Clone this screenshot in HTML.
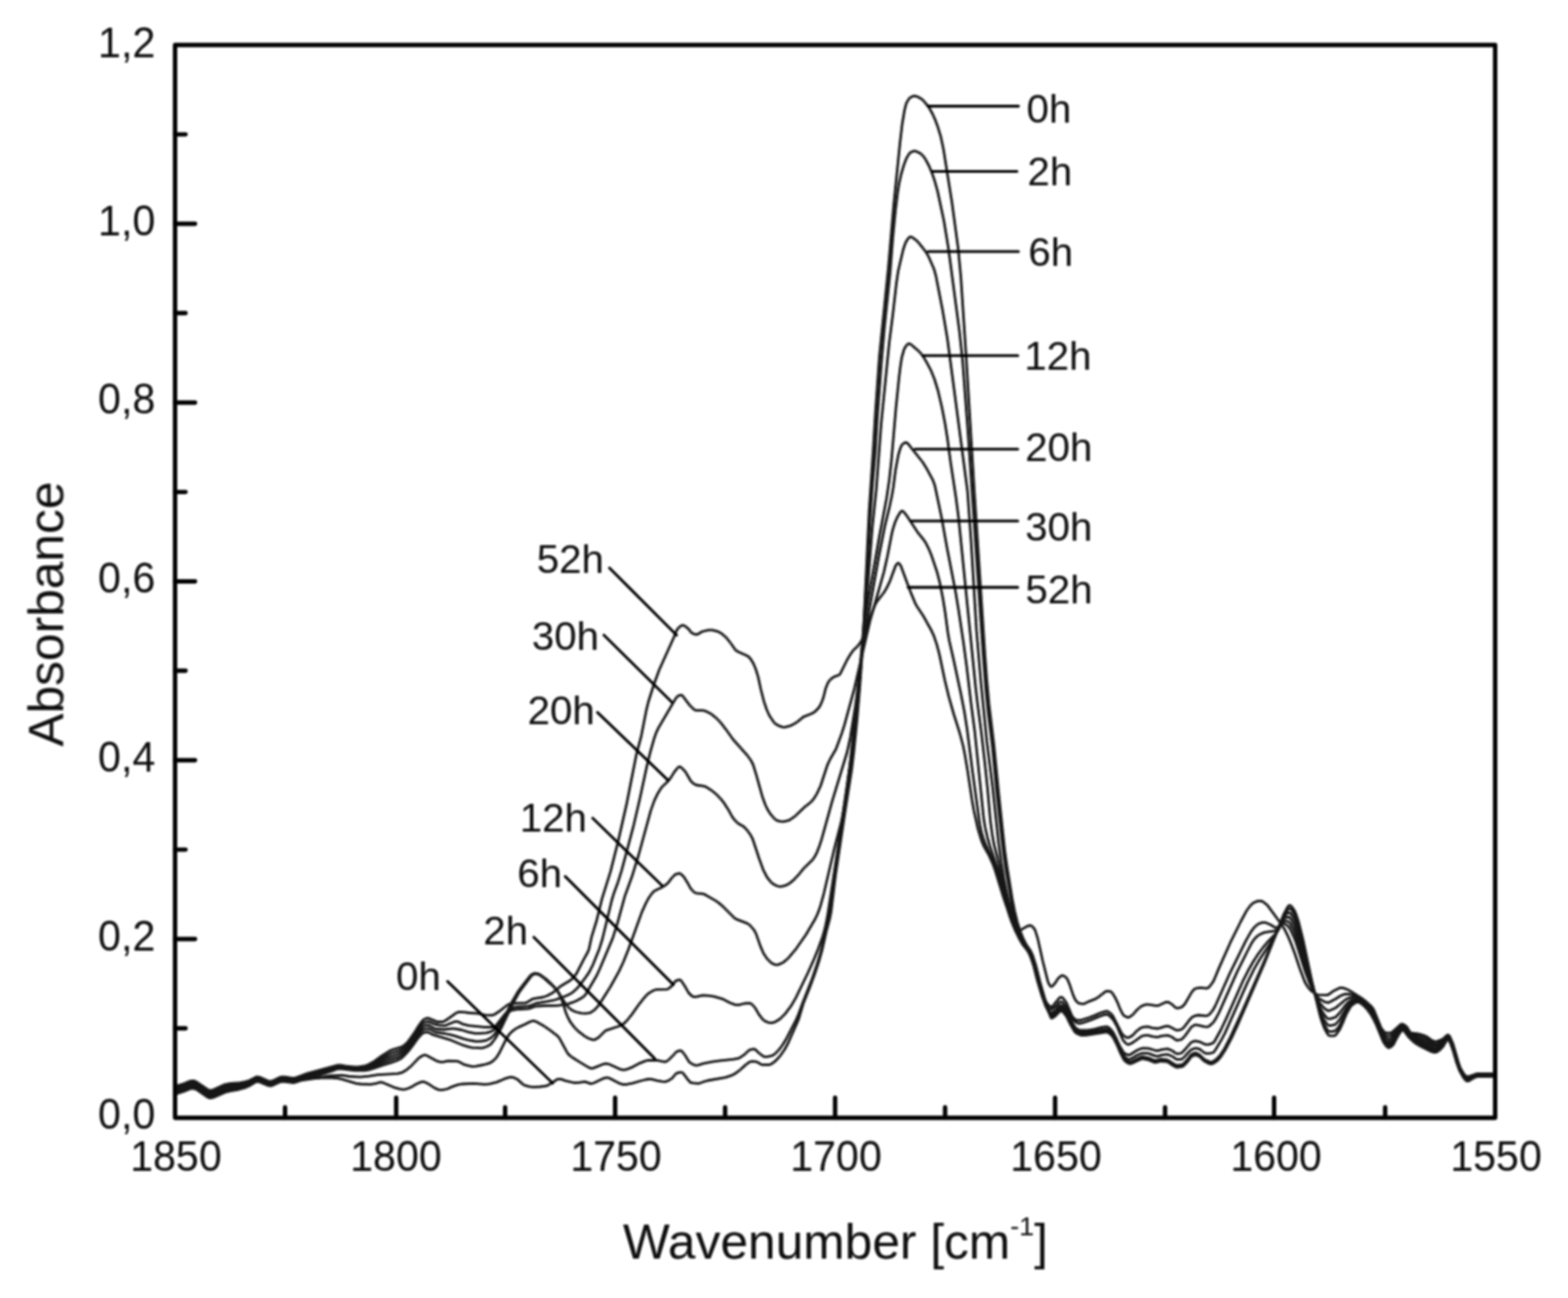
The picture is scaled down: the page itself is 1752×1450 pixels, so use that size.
<!DOCTYPE html>
<html lang="en"><head><meta charset="utf-8"><title>FTIR absorbance spectra</title>
<style>
html,body{margin:0;padding:0;background:#fff;}
body{width:1752px;height:1450px;overflow:hidden;}
svg{display:block;}
text{font-family:"Liberation Sans",sans-serif;fill:#0a0a0a;}
.tk{font-size:46px;}
.lb{font-size:45px;}
.ax{font-size:55.5px;}
</style></head><body>
<svg width="1752" height="1450" viewBox="0 0 1752 1450">
<defs><filter id="bl" x="0" y="0" width="1752" height="1450" filterUnits="userSpaceOnUse"><feGaussianBlur stdDeviation="0.8"/></filter></defs>
<rect x="0" y="0" width="1752" height="1450" fill="#fff"/>
<g filter="url(#bl)">
<g fill="none" stroke="#141414" stroke-width="2.8" stroke-linejoin="round" stroke-linecap="butt">
<path d="M195.6 1222.3L205.6 1219.1L212.1 1216.5L214.1 1216L216.1 1215.9L217.6 1216.3L219.6 1217.2L232.1 1225.8L234.1 1226.6L235.6 1226.7L238.6 1225.9L251.6 1220.1L258.1 1218.6L267.1 1217L273.6 1215.1L278.1 1213.2L285.1 1209L287.1 1208.1L290.1 1208.6L299.6 1212.7L302.1 1213.2L304.6 1212.6L312.6 1208.8L314.6 1208.2L318.1 1208.3L328.1 1209.6L330.6 1209L335.6 1207.2L340.1 1206.3L352.1 1204.6L359.1 1204L371.1 1204L377.6 1204.7L383.1 1205.8L398.1 1210.3L403.1 1211L414.1 1211.3L420.1 1210.4L424.6 1209L426.1 1209L428.6 1209.7L441.6 1215.2L447.1 1216.6L450.6 1217.1L452.6 1216.9L455.6 1216L459.6 1214.4L465.1 1211L468.6 1209.4L471.1 1208.6L473.1 1208.4L475.1 1209L479.1 1211.1L485.6 1215.4L489.6 1217.1L492.1 1217.6L495.1 1217.4L499.6 1216.5L506.1 1213.6L512.1 1211.7L515.6 1211L529.6 1210.4L541.6 1211.4L547.1 1210.9L555.1 1208.9L563.6 1205.2L568.6 1203.6L571.1 1203.2L574.1 1203.8L578.6 1206.1L584.1 1211.1L586.1 1212.4L591.6 1213.8L596.1 1214.3L603.6 1214L610.1 1213.2L612.6 1212.1L618.1 1208.8L622.1 1206L624.1 1205.3L627.1 1205.7L632.1 1207.3L641.1 1209.5L644.6 1209.6L653.6 1208.4L660.1 1210.6L663.1 1210L674.1 1204.7L677.6 1203.8L679.1 1203.9L681.1 1204.5L692.6 1210.4L696.1 1211.5L700.1 1211.3L706.6 1210.2L715.6 1207.5L721.6 1206L724.6 1205.5L728.1 1205.7L734.1 1207.2L739.6 1208.1L743.6 1208.4L746.6 1207.3L751.1 1204.3L754.6 1200.2L756.1 1198.9L758.6 1198.1L761.1 1197.8L762.1 1198L763.6 1199.3L769.6 1207.3L771.1 1208.9L772.1 1209.4L774.6 1209.9L780.1 1210.3L782.6 1209.8L788.1 1207.8L791.1 1207L810.6 1203.6L818.1 1201.1L821.1 1199.5L825.1 1196.7L833.1 1189.6L837.1 1186.6L838.6 1185.9L841.1 1185.7L845.6 1186.2L847.1 1187L849.6 1188.7L851.1 1189.3L859.1 1189.5L860.6 1189.2L863.1 1187.8L867.6 1184.2L872.6 1178.3L876.6 1172.5L880.6 1165.3L892.1 1139.3L897.6 1121L904.6 1103.6L910.6 1087.2L915.1 1073.5L918.6 1061.3L923.6 1039.3L927.1 1026.3L928.6 1018.8L933.6 977.6L944.6 904.4L951.6 860L954.1 839.2L957.6 804.1L960.6 768.7L963.1 733.9L964.6 709.1L971.1 570.9L975.6 503.9L978.1 461.9L982.6 398.1L992.6 298.9L998.6 229.2L1005.6 159.7L1008.1 138.4L1010.6 123.5L1012.1 117.3L1013.1 114.6L1015.1 111.1L1016.6 109.3L1019.6 107.6L1021.6 107.1L1023.1 107.3L1025.1 108L1029.6 110.5L1032.1 112.8L1036.1 117.5L1039.1 122L1042.1 127.5L1044.6 133.1L1047.6 140.9L1051.1 152.3L1054.1 166.2L1063.6 225.7L1070.6 277.4L1073.6 309.3L1079.6 399.6L1088.6 548L1100.6 732.5L1102.6 759.5L1105.1 787L1110.6 832.3L1115.6 883.7L1122.6 949.6L1125.1 967.5L1131.1 1004.5L1133.6 1017.3L1136.6 1029.6L1139.6 1039.2L1143.6 1049.2L1146.6 1055.1L1151.6 1062.3L1154.1 1067.9L1157.6 1079.1L1162.1 1097.2L1170.1 1125L1174.1 1136.6L1174.6 1137.3L1175.1 1137.5L1176.1 1137.2L1179.1 1135L1184.1 1130L1185.6 1129.5L1186.6 1129.8L1188.6 1131.5L1191.6 1135.3L1196.1 1144.6L1200.6 1152.3L1201.6 1153.4L1203.1 1154.4L1207.1 1156.3L1209.1 1156.6L1214.1 1156.3L1235.1 1153.2L1237.1 1153.1L1238.6 1153.7L1242.1 1156.6L1244.1 1159.3L1248.1 1167.3L1251.6 1175.7L1255.6 1183.6L1257.6 1185.8L1259.6 1187.2L1261.6 1188.1L1263.1 1188.3L1264.6 1188L1274.1 1183.4L1276.1 1182.8L1277.6 1182.8L1283.6 1184.2L1289.6 1186.8L1291.6 1186.8L1297.1 1185.5L1304.1 1186.2L1305.6 1186.8L1309.1 1189.3L1313.6 1192L1315.1 1192.4L1317.6 1192.2L1320.6 1191.7L1322.1 1191L1326.6 1186.5L1331.1 1180.4L1334.1 1178.9L1336.1 1178.6L1338.1 1179.2L1341.1 1180.9L1345.6 1185.4L1349.1 1187.4L1352.6 1188.6L1354.1 1188.5L1355.6 1188L1360.6 1184.6L1364.6 1179.8L1369.6 1171.9L1377.1 1157.5L1382.1 1146.7L1412.6 1076.5L1425.6 1044.2L1434.1 1022L1438.6 1013.5L1440.1 1011.7L1441.1 1011.4L1442.1 1011.8L1443.1 1012.6L1446.6 1017.6L1448.6 1022.6L1451.1 1030.3L1456.1 1050.4L1465.6 1095L1474.6 1133.3L1477.1 1141.6L1479.6 1148.3L1482.6 1153.9L1484.6 1156.6L1485.6 1157.1L1490.6 1157.1L1491.6 1156.8L1493.1 1155.4L1497.1 1149.6L1501.1 1140.8L1504.6 1132.3L1508.6 1125.2L1510.1 1123.4L1514.1 1120.4L1516.1 1119.6L1518.1 1119.6L1520.6 1121L1525.1 1124.7L1528.1 1128.1L1531.6 1132.9L1534.6 1138.2L1537.6 1144.3L1545.6 1163.8L1548.1 1167.5L1550.6 1170.1L1551.6 1170.5L1553.1 1170.2L1554.6 1169.2L1557.1 1166.7L1561.1 1158.7L1564.1 1153.8L1565.6 1151.9L1567.1 1151L1568.1 1151.2L1569.1 1152L1574.1 1158.6L1579.1 1163.5L1582.1 1165.9L1587.6 1169.1L1598.6 1174.4L1601.6 1175.5L1603.1 1175.7L1604.6 1175.5L1606.1 1174.8L1608.1 1173.4L1612.1 1169.6L1616.6 1162.1L1617.6 1161.3L1618.1 1161.3L1618.6 1161.6L1619.6 1163L1621.1 1166.5L1623.6 1173.4L1627.1 1185.7L1631.1 1196.5L1635.6 1204.3L1638.1 1207.2L1639.6 1207.8L1641.1 1207.5L1646.1 1204.4L1650.6 1202.5L1662.1 1202.6L1670.6 1202.3"/>
<path d="M195.6 1220.9L205.6 1217.7L212.1 1215.1L214.1 1214.6L216.1 1214.5L217.6 1214.8L219.6 1215.8L232.1 1224.3L234.1 1225.1L235.6 1225.3L238.6 1224.4L251.6 1218.7L258.1 1217.2L267.6 1215.7L274.1 1213.9L278.1 1212.3L285.1 1208.1L287.1 1207.3L290.1 1207.7L299.6 1211.8L302.1 1212.3L304.6 1211.8L312.6 1208L314.6 1207.3L318.1 1207.4L326.1 1208.6L328.6 1208.7L330.6 1208.2L335.6 1206.4L342.6 1204.5L345.1 1204.3L352.1 1204.5L369.1 1201.6L382.1 1201.2L390.6 1202.5L402.6 1203.2L412.6 1202.1L422.1 1200.7L444.1 1199.4L449.1 1198.2L454.1 1195.3L459.1 1191.1L467.6 1182.2L471.6 1179.5L474.1 1178.6L475.6 1178.7L477.1 1179.3L487.6 1185.1L492.1 1186.3L495.1 1186.4L500.6 1185.2L510.6 1185.4L513.1 1186.3L519.1 1189.4L524.1 1190.7L527.6 1191.3L531.6 1191.1L540.1 1189.5L544.6 1188.4L548.1 1187.1L551.1 1185L554.6 1181.6L557.6 1176.8L564.6 1162.8L567.1 1158.4L569.1 1155.4L572.1 1152.3L575.6 1149.6L579.1 1147.6L586.6 1144.2L592.1 1141.4L595.1 1140.5L597.1 1140.6L599.1 1141.3L606.6 1145.4L614.6 1150.9L622.1 1156.6L624.1 1158.5L625.1 1159.8L633.1 1174.7L634.6 1177L636.1 1178.7L639.1 1181L647.6 1186.4L657.6 1192.4L660.6 1193.5L663.1 1193.1L674.1 1188.7L677.6 1188.1L681.1 1189L693.6 1194.7L695.6 1195.1L697.6 1195.1L701.1 1194.3L706.6 1192.1L715.1 1187.6L720.6 1185.4L723.6 1184.5L734.1 1184.3L741.1 1186L743.6 1186.1L745.1 1185.5L747.1 1184L751.6 1179.6L755.6 1175.1L757.1 1174.4L759.6 1173.7L761.1 1173.8L762.6 1175.1L765.6 1179L769.1 1184.9L770.6 1186.9L774.6 1189.3L776.6 1190L778.1 1190.1L780.1 1189.8L785.6 1188.1L795.6 1186.1L804.6 1184.8L819.1 1183.4L824.6 1182.4L827.6 1180.9L832.1 1177.8L836.6 1173.4L838.1 1172.7L841.1 1172L842.6 1171.9L844.1 1172.5L848.1 1176.4L852.1 1179.5L853.6 1180.3L855.6 1180.6L859.1 1180.1L863.1 1179.1L864.6 1178.2L867.1 1176.1L871.6 1171.2L874.6 1167L878.6 1160.4L889.6 1139.1L892.1 1133.2L896.6 1121L906.6 1095.6L913.1 1076.6L917.1 1063.2L925.6 1027.1L927.1 1019.4L931.6 981.1L937.6 940.5L942.1 907.7L946.1 882L949.6 856.4L954.1 829.5L956.6 807.4L961.1 756.4L963.6 724.2L972.1 580.1L975.1 538.7L978.1 504.1L980.1 469.7L984.6 407.8L988.1 367.4L994.6 304.4L997.6 265.5L1000.6 234.7L1003.1 214.4L1004.6 205L1007.1 194L1010.1 183.9L1012.6 177.2L1015.6 172.1L1016.6 171L1018.1 169.9L1020.1 169L1021.6 168.7L1024.6 169.4L1028.6 171.6L1032.1 175L1034.6 178.8L1038.1 185.5L1041.6 193.9L1044.6 202.8L1047.6 213.6L1054.6 246.3L1059.6 276.5L1072.1 370.6L1075.6 403.8L1081.6 483.3L1098.6 733.2L1101.6 771.1L1104.1 796.2L1108.6 832.3L1113.6 883.7L1119.6 939.4L1121.6 955.7L1124.1 972.7L1130.6 1010.2L1133.6 1023.7L1136.1 1033.1L1139.6 1043.3L1143.1 1051.3L1145.6 1055.8L1150.6 1062.4L1153.1 1067.7L1156.6 1078.4L1161.6 1098.3L1169.1 1123.6L1170.6 1128L1173.6 1134.8L1174.6 1135.5L1176.1 1135L1179.1 1133.1L1184.1 1128L1185.6 1127.5L1186.6 1127.8L1188.6 1129.5L1191.6 1133.3L1196.1 1142.6L1200.6 1150.4L1201.6 1151.6L1203.1 1152.7L1207.1 1154.7L1210.6 1155L1218.1 1154.2L1235.1 1151.6L1237.1 1151.5L1238.6 1152.1L1242.6 1155.5L1244.6 1158.5L1248.1 1165.6L1251.6 1174L1255.6 1181.8L1257.6 1184L1259.6 1185.3L1261.6 1186.1L1263.1 1186.3L1264.6 1185.9L1274.1 1181.1L1276.1 1180.5L1277.6 1180.5L1283.6 1181.9L1289.6 1184.5L1291.6 1184.5L1297.1 1183.2L1304.1 1184L1305.6 1184.6L1309.1 1187L1313.6 1189.6L1315.1 1190L1317.6 1189.8L1321.1 1189.1L1322.6 1188.1L1326.6 1183.8L1331.1 1177.9L1334.1 1176.5L1336.1 1176.2L1338.1 1176.9L1341.1 1178.9L1345.1 1182.9L1346.6 1184L1351.6 1186.1L1353.6 1186.3L1355.1 1185.9L1357.1 1184.7L1360.1 1182.3L1363.1 1179L1368.1 1171.4L1373.6 1161L1388.1 1129.5L1411.1 1077.4L1432.6 1026.3L1434.6 1022.3L1437.1 1018.3L1439.6 1015.2L1440.6 1015.1L1442.1 1015.4L1442.6 1015.8L1445.6 1020L1447.6 1024.2L1449.6 1029.9L1452.1 1038.1L1454.6 1047.9L1465.6 1096.1L1474.1 1129.4L1476.6 1137.2L1479.1 1143.5L1481.1 1147.3L1483.1 1150.5L1484.1 1151.6L1485.6 1152.3L1486.6 1152.4L1490.6 1152L1492.6 1151L1495.6 1147.3L1497.1 1145L1504.6 1129.6L1508.6 1123.4L1510.6 1121.4L1513.6 1119.7L1515.6 1118.9L1518.1 1119L1520.6 1120.3L1525.6 1124.5L1528.6 1127.9L1531.6 1132L1534.1 1136.2L1537.1 1142.2L1545.6 1162.6L1548.6 1166.7L1550.6 1168.4L1552.1 1168.8L1553.1 1168.5L1554.6 1167.7L1556.1 1166.2L1558.1 1163.6L1561.6 1156.9L1565.1 1151.5L1566.1 1150.7L1567.1 1150.6L1568.1 1150.5L1569.1 1151.2L1574.6 1158.4L1578.1 1161.7L1581.6 1164.4L1586.6 1167.3L1594.1 1170.7L1599.1 1173.3L1601.6 1174.3L1604.6 1174.3L1606.6 1173.4L1608.6 1171.9L1612.1 1168.7L1616.1 1162.2L1617.1 1161.2L1618.1 1160.8L1619.6 1162.6L1621.1 1165.8L1624.1 1174.3L1628.1 1187.9L1631.1 1195.9L1635.1 1203.1L1637.6 1206.3L1639.1 1207.1L1640.6 1207.2L1642.6 1206.3L1646.1 1204L1650.1 1202.3L1670.6 1202"/>
<path d="M195.6 1219.4L205.6 1216.2L212.1 1213.7L214.1 1213.2L216.1 1213L217.6 1213.4L219.6 1214.4L232.1 1222.9L234.1 1223.7L235.6 1223.8L238.6 1223L248.6 1218.3L251.6 1217.2L258.1 1215.8L268.1 1214.4L274.6 1212.6L278.1 1211.2L285.1 1207.2L287.1 1206.4L290.1 1206.8L299.6 1210.9L301.1 1211.4L302.6 1211.4L305.1 1210.7L312.6 1207.1L314.6 1206.4L319.1 1206.6L326.6 1207.8L329.6 1207.6L335.6 1205.5L340.1 1204.3L353.1 1202.1L371.1 1196.5L376.1 1194.5L378.1 1194.1L382.1 1194.2L396.1 1195.8L407.1 1195.9L411.1 1195.3L418.6 1193.1L427.1 1190.1L437.6 1186.9L443.6 1184.7L448.1 1182.4L451.1 1179.9L455.6 1175.1L460.1 1169.4L467.1 1159.6L470.1 1156.2L472.6 1154L476.1 1152.9L478.6 1153L482.1 1155.1L484.6 1156.2L502.1 1161.3L517.6 1167.7L524.1 1169.7L527.6 1170.4L534.1 1170.7L538.1 1170.8L541.1 1170.2L545.1 1168.5L548.1 1166.7L550.1 1164.5L553.6 1159.7L560.1 1148.3L573.1 1121.1L579.6 1109.3L582.1 1105.6L593.6 1090.4L595.1 1089L598.1 1087.9L600.1 1088.1L603.1 1089.3L608.1 1092.9L615.6 1099.6L620.6 1104.6L623.1 1107.7L625.1 1110.9L627.1 1115.4L629.6 1122.2L632.1 1130.8L634.6 1136.8L637.6 1142.2L641.6 1147.4L646.6 1152.4L653.1 1157.4L657.6 1160L662.6 1161.7L663.6 1161.7L665.1 1161.2L669.1 1158.7L675.1 1152.7L677.1 1151.2L691.1 1146.5L694.6 1144.9L697.6 1143L700.6 1140L706.1 1133.1L714.1 1121.8L719.6 1114.9L722.6 1111.5L725.1 1109.4L730.1 1106.5L733.6 1105.3L745.1 1105.1L746.1 1104.9L748.1 1103.6L751.1 1100.9L755.1 1095.7L758.6 1094.6L760.1 1094.7L761.6 1096.2L765.1 1101.5L769.6 1109.4L773.1 1112.6L775.1 1113.7L777.6 1113.6L785.1 1111.9L790.1 1112.2L797.6 1113.2L807.1 1115.8L815.6 1120.2L820.6 1122.1L823.1 1122.7L825.6 1122.6L831.6 1121L837.1 1120.7L838.6 1120.9L840.6 1122.4L843.6 1125.6L848.6 1134.2L852.1 1138.5L854.6 1140.6L858.6 1142.3L860.6 1142.7L862.6 1142.7L864.6 1142.2L867.1 1141L871.6 1138.2L877.6 1132.2L883.6 1124.2L889.1 1114.9L902.6 1087L908.6 1073.7L914.1 1060.3L919.1 1046.6L922.1 1035.7L924.6 1023.1L938.1 935.5L949.1 858.6L953.1 824.7L960.6 749.7L964.1 709.9L970.1 647.6L974.6 589.9L979.1 546.8L984.6 473.1L993.6 382.6L997.6 351.4L1001.6 316.3L1003.6 302.7L1009.1 279.2L1011.1 273L1012.6 269.6L1015.1 266L1016.1 265.1L1017.1 264.6L1018.1 264.7L1019.6 265.3L1024.1 268.7L1026.6 271.4L1033.6 280.1L1035.6 283.1L1037.6 286.8L1043.6 300.5L1045.6 307.6L1053.1 346.1L1058.6 378.5L1081.1 549L1085.1 605.3L1091.1 704.4L1096.1 763L1102.6 827.9L1109.1 879.2L1115.6 940.2L1118.6 962.3L1121.6 980.7L1124.1 993.5L1127.1 1007L1130.6 1020.4L1134.1 1032L1137.6 1041.4L1141.6 1050.4L1144.6 1055.7L1149.6 1062.4L1152.6 1068.8L1156.1 1079.4L1160.1 1095.7L1164.6 1111L1169.1 1124.8L1172.6 1131.8L1174.1 1133.4L1175.6 1133.3L1179.1 1131.1L1184.1 1126L1185.6 1125.5L1186.6 1125.8L1188.6 1127.5L1191.6 1131.3L1196.1 1140.6L1200.6 1148.4L1201.6 1149.6L1203.6 1151.1L1205.6 1152.3L1207.6 1153.1L1211.1 1153.2L1218.6 1152.4L1235.1 1149.9L1237.1 1149.8L1238.6 1150.4L1242.1 1153.3L1244.1 1156L1248.1 1164.1L1251.6 1172.3L1255.1 1178.5L1257.1 1180.9L1259.1 1182.5L1260.6 1183.3L1262.1 1183.3L1264.1 1182.7L1270.1 1179L1275.1 1176.8L1276.6 1176.6L1282.1 1176.6L1283.6 1176.9L1290.1 1179.4L1292.6 1180L1294.1 1179.9L1298.1 1178.7L1301.1 1178.2L1305.1 1178L1310.1 1180.2L1313.1 1182.5L1314.6 1183.3L1319.6 1183.4L1321.1 1182.7L1323.6 1180.5L1327.1 1176.4L1330.6 1173.1L1333.6 1171.5L1335.6 1171L1337.6 1171.2L1340.6 1172.2L1345.6 1176L1347.6 1176.9L1351.1 1176.8L1355.1 1176L1356.6 1174.9L1358.1 1172.8L1364.6 1161.9L1368.6 1154.4L1393.6 1098.1L1401.6 1081.9L1408.1 1070.7L1419.6 1053.6L1424.6 1045.4L1428.1 1038.8L1432.1 1028.9L1434.1 1024.9L1437.6 1020.9L1439.1 1019.7L1440.1 1019.4L1442.1 1020.4L1444.6 1023.8L1446.6 1027.6L1448.6 1032.6L1453.6 1049.3L1466.1 1099.5L1473.6 1125.1L1476.1 1132L1478.6 1137.6L1480.6 1141.1L1483.6 1145L1485.1 1145.7L1486.6 1145.7L1490.6 1144.9L1492.6 1143.9L1496.6 1139.3L1504.1 1126.6L1508.1 1121.4L1510.1 1119.7L1513.6 1118.2L1516.1 1117.8L1518.1 1118.1L1520.6 1119.5L1525.6 1123.6L1529.1 1127.4L1532.1 1131.4L1534.6 1135.6L1537.1 1140.8L1543.1 1155.6L1545.6 1160.9L1547.6 1163.7L1550.1 1165.9L1551.6 1166.5L1552.6 1166.4L1554.1 1165.8L1555.6 1164.6L1558.1 1161.6L1561.6 1155.4L1565.1 1150.4L1565.6 1149.9L1567.1 1149.6L1568.1 1149.5L1569.1 1150.2L1575.1 1157.9L1577.1 1159.7L1580.1 1161.9L1584.6 1164.5L1593.6 1168.4L1599.1 1171.5L1601.6 1172.5L1604.6 1172.6L1606.6 1171.8L1608.6 1170.4L1612.1 1167.5L1616.1 1161.4L1617.1 1160.5L1618.1 1160.1L1619.1 1161L1620.1 1162.6L1623.1 1170.3L1627.6 1185.5L1631.1 1195.3L1632.6 1198.3L1635.1 1202.4L1637.6 1205.6L1639.1 1206.4L1640.6 1206.5L1642.6 1205.7L1646.1 1203.5L1650.1 1201.9L1670.6 1201.6"/>
<path d="M195.6 1218L205.6 1214.8L212.1 1212.2L214.1 1211.7L216.1 1211.6L217.6 1212L219.6 1212.9L232.1 1221.5L234.1 1222.3L235.6 1222.4L238.6 1221.6L248.6 1216.9L251.6 1215.8L258.1 1214.4L268.1 1213.2L274.6 1211.5L278.1 1210.3L285.6 1206.1L287.1 1205.5L290.1 1206L299.6 1210.1L301.1 1210.5L302.6 1210.6L305.1 1209.8L312.6 1206.2L314.6 1205.6L319.1 1205.8L326.6 1206.9L329.6 1206.8L335.6 1204.6L342.1 1202.7L353.1 1200.7L378.1 1193L381.6 1193.1L395.6 1194.8L406.6 1194.7L409.6 1194.3L418.1 1191.3L428.1 1186.9L444.6 1180.9L448.6 1178.9L452.1 1176L455.6 1172.3L460.6 1165.9L467.6 1155.8L470.6 1152.2L473.1 1150.1L476.6 1149L478.1 1149L479.6 1149.3L485.1 1152.4L487.1 1153.2L496.6 1154.5L503.1 1155.8L507.1 1156.9L518.6 1160.7L523.6 1161.9L529.6 1163L533.1 1163.3L538.6 1163L543.6 1162.1L546.6 1160.6L550.1 1158.1L552.1 1156.1L554.6 1152.8L559.1 1145.6L563.1 1137.8L570.6 1121.8L578.1 1108.9L581.6 1103.8L592.1 1090.4L594.1 1088.5L597.1 1087.2L600.6 1087.6L603.6 1088.8L610.1 1093.6L616.1 1099.1L619.6 1102.8L623.1 1107.1L632.6 1122.4L635.6 1125.7L638.1 1127.8L640.1 1129L643.6 1130.5L649.6 1131.9L654.6 1132.1L658.1 1131.7L659.6 1131.3L662.6 1129.4L664.6 1127.8L667.6 1124.6L670.1 1121.3L682.1 1102.2L691.6 1085.1L696.6 1074.5L702.1 1060.7L717.1 1019.1L721.6 1009.1L725.1 1002.7L728.1 998.5L730.6 995.8L732.6 994.6L740.1 990.9L743.6 988.7L746.6 986.1L750.1 981.4L753.6 977.6L754.6 976.9L757.6 975.9L759.6 975.7L760.6 976.2L764.1 979.6L768.1 985.9L771.6 992.3L774.1 995.2L776.1 997L778.1 997.8L784.6 998.4L786.6 998.8L799.1 1005.9L803.1 1008.6L808.1 1012.9L820.6 1025.5L824.1 1027.4L834.6 1031.4L836.6 1032.6L838.6 1034.3L842.1 1038.3L844.6 1042.6L849.6 1056.9L853.1 1065L857.1 1071L861.6 1075.4L863.1 1076.4L866.1 1077.7L867.6 1077.9L869.6 1077.6L875.1 1075.2L877.6 1073.2L881.6 1069.4L889.6 1059.8L900.6 1044L910.6 1027L913.1 1021.8L915.1 1016.9L917.1 1010.7L920.6 997.8L931.6 950.7L939.6 919.7L942.6 906.4L944.6 894.7L950.6 847.6L961.1 746.5L964.1 714.7L967.1 690.1L970.1 670.1L982.6 598.9L990.6 556.7L993.6 536.4L996.1 514L1001.1 455.7L1004.6 421.1L1006.1 408.9L1007.6 399.4L1010.1 390.5L1011.1 388.3L1013.1 385.6L1014.6 384.2L1015.6 383.9L1016.6 384.1L1018.1 385L1026.1 391.9L1029.1 395L1031.6 398.4L1035.1 404.2L1040.6 414.7L1044.1 423.5L1048.1 436.5L1052.6 455.7L1056.1 474L1058.6 489.8L1062.1 516.1L1068.1 555.5L1071.1 578.8L1090.1 767.5L1092.1 784.9L1096.6 819.1L1100.6 853.9L1103.6 882.7L1106.6 917L1108.6 931.9L1110.6 943.2L1115.6 962.6L1125.6 1008.9L1128.1 1018.5L1131.1 1028.4L1135.6 1040.6L1140.1 1050.6L1143.1 1055.7L1148.6 1062.5L1151.6 1068.5L1155.1 1078.7L1159.6 1096.8L1164.1 1112L1168.1 1123.2L1169.1 1125.3L1172.1 1130.1L1173.6 1131.4L1174.6 1131.4L1176.1 1130.9L1179.6 1128.6L1184.1 1123.5L1185.6 1123L1186.6 1123.3L1188.6 1125.3L1191.6 1129.4L1196.1 1138.6L1200.6 1146.7L1201.6 1148L1203.1 1149.3L1205.6 1150.6L1211.1 1151L1215.6 1150.9L1223.1 1149.6L1229.6 1147.9L1233.6 1147.2L1236.6 1146.9L1238.1 1147.3L1240.6 1149.4L1243.6 1153L1248.1 1161.7L1251.1 1168.6L1255.1 1175.2L1257.1 1177.1L1260.6 1178.5L1262.6 1178.3L1270.6 1173.3L1274.6 1171.4L1276.6 1171L1283.1 1171.1L1291.1 1173.5L1293.1 1173.8L1298.6 1172.4L1304.6 1171.7L1306.6 1172.3L1310.1 1174L1314.1 1176.9L1315.1 1177.2L1317.1 1177.1L1319.6 1176.5L1320.6 1175.9L1324.1 1172.4L1330.6 1164.9L1331.6 1164.2L1334.1 1163.1L1336.1 1162.8L1338.6 1163.3L1341.1 1164.1L1345.6 1166.3L1347.6 1166.9L1350.6 1166.8L1354.1 1165.7L1355.6 1165L1357.1 1163.2L1364.1 1150.5L1370.1 1137.9L1388.6 1096.2L1394.6 1084.3L1400.6 1073.7L1406.1 1065.3L1411.6 1058L1415.1 1053.8L1424.6 1043.8L1427.1 1040.8L1428.6 1038.4L1432.1 1030.1L1433.6 1027.4L1435.1 1026.1L1437.1 1024.9L1440.1 1024.4L1442.1 1026.1L1444.6 1030.1L1446.6 1034.2L1448.6 1039.4L1453.1 1053.9L1460.1 1080.3L1464.6 1096.2L1468.6 1108.6L1473.1 1121L1475.6 1126.7L1478.1 1131.3L1480.6 1134.9L1483.6 1137.9L1486.6 1138.1L1491.1 1136.7L1492.6 1135.9L1496.6 1131.8L1504.1 1122L1506.6 1119.5L1508.6 1118L1510.1 1117.2L1513.6 1116.6L1516.1 1116.5L1518.1 1117L1520.6 1118.4L1525.6 1122.5L1529.6 1126.7L1532.6 1130.6L1534.6 1133.9L1536.6 1138L1542.1 1151.6L1545.1 1158.1L1547.1 1161L1549.6 1163.1L1552.1 1163.8L1554.1 1163.2L1555.1 1162.6L1558.1 1159.3L1561.6 1153.7L1565.1 1149.1L1565.6 1148.7L1567.1 1148.4L1568.1 1148.4L1569.1 1149.1L1571.1 1151.3L1575.1 1156.7L1577.6 1158.8L1582.6 1161.5L1594.1 1166.4L1599.1 1169.4L1601.6 1170.6L1604.6 1170.7L1606.6 1169.9L1608.6 1168.7L1612.1 1166.1L1615.6 1161L1617.1 1159.6L1618.1 1159.3L1619.1 1160.2L1620.1 1161.7L1623.1 1169.2L1627.6 1184.4L1631.1 1194.5L1632.6 1197.6L1635.1 1201.7L1637.6 1204.9L1639.1 1205.6L1640.6 1205.7L1642.6 1204.9L1646.6 1202.7L1650.1 1201.3L1670.6 1201.1"/>
<path d="M195.6 1216.6L205.6 1213.4L212.1 1210.8L214.1 1210.3L216.1 1210.2L217.6 1210.5L219.6 1211.5L232.1 1220L234.1 1220.8L235.6 1221L238.6 1220.1L248.6 1215.5L251.6 1214.4L258.1 1213.1L268.6 1212L275.1 1210.3L278.1 1209.3L285.6 1205.2L287.1 1204.7L290.1 1205.1L299.6 1209.2L301.1 1209.7L302.6 1209.7L305.1 1209L312.6 1205.4L314.6 1204.7L319.1 1204.9L326.6 1206.1L329.6 1205.9L342.6 1201.4L352.6 1199.6L377.6 1192L381.1 1192L395.6 1193.8L402.6 1193.7L408.6 1193.1L412.1 1192L418.1 1189.4L426.6 1184.8L433.6 1181.6L438.6 1179.5L446.1 1177L449.6 1175.1L453.1 1172.3L456.1 1168.9L461.6 1161.6L467.6 1152.6L470.6 1148.9L473.1 1146.5L475.6 1145.5L477.6 1145.1L479.1 1145.3L485.1 1148.7L487.1 1149.5L496.6 1150L504.1 1149.1L507.6 1149.1L515.6 1150.5L523.1 1152.8L530.6 1154.3L536.1 1154.4L543.6 1153.8L548.6 1152.3L551.6 1150.8L552.6 1150L564.1 1134.9L568.6 1130.5L571.6 1128.6L577.6 1127.7L590.6 1126.9L597.6 1124.5L600.1 1124L608.1 1123.5L622.1 1123.4L630.6 1122.4L635.1 1121.4L640.1 1119.7L644.6 1117.7L649.6 1115L652.6 1112.8L654.6 1110.5L666.6 1090L670.1 1082.5L684.6 1048.1L689.6 1032.4L698.1 1001.3L706.1 979.3L713.6 955L727.1 905.6L731.1 894.4L734.6 887.1L738.6 880.6L740.6 878.2L745.1 874L747.6 871.1L750.1 867.9L753.1 862.9L755.6 859.6L757.1 857.8L758.6 856.7L759.6 856.6L761.1 857.3L765.1 861.3L767.1 864.3L771.6 872L772.6 873.3L775.1 875.5L778.1 877L786.1 878.1L788.6 878.9L795.1 883L800.6 887.5L805.1 892.2L809.1 897.2L813.6 904.2L818.1 912.4L821.1 916.3L824.6 919.7L831.1 923.5L835.1 927.7L838.6 932.7L841.1 937.5L848.1 958.8L853.1 972.4L857.1 980L861.6 985.6L863.6 987.3L867.6 989.5L870.1 990.2L872.1 990.3L875.1 989.8L879.1 988.6L882.1 986.8L886.1 983.7L892.1 977.4L897.6 970.6L908.1 960.3L910.6 956.5L913.1 951.6L915.6 945L918.1 937.4L929.6 895.8L946.6 840L950.1 823.7L955.6 789.8L957.6 775.3L961.6 740.9L966.1 710.4L982.1 620.9L988.6 588.2L994.1 565.3L996.6 553.5L998.1 544.8L1000.6 525.2L1003.6 508.9L1005.6 501.9L1007.1 498.1L1008.1 496.7L1009.6 495.4L1011.1 494.5L1012.1 494.3L1013.6 494.8L1015.1 496.3L1031.1 516.5L1035.1 522.9L1042.1 535.8L1044.6 542.6L1052.1 578.3L1058.1 611.7L1067.6 660.5L1071.1 681.8L1076.6 718.4L1080.1 744.4L1085.1 786.4L1089.1 816.7L1099.1 914.1L1100.6 923.5L1103.1 934.8L1106.1 945.4L1115.1 971.8L1118.6 983L1120.6 990.8L1125.6 1013.8L1130.6 1030L1134.6 1039.9L1138.6 1047.9L1142.1 1053.6L1147.6 1060.5L1150.6 1066.4L1154.6 1077.6L1158.6 1093.1L1163.6 1109.9L1167.6 1120.3L1170.1 1124.5L1172.1 1127.2L1173.6 1128L1175.6 1127.4L1179.1 1125L1184.1 1119.5L1185.6 1119L1186.6 1119.3L1188.6 1121.3L1191.6 1125.4L1196.1 1134.2L1199.6 1139.6L1201.6 1141.6L1204.1 1143L1205.6 1143.4L1207.6 1143.2L1209.6 1142.7L1219.6 1139.1L1229.1 1135.2L1233.6 1133.6L1236.1 1133.1L1237.6 1133.3L1239.1 1134.3L1240.6 1135.7L1243.1 1138.3L1244.6 1140.4L1248.1 1146.5L1251.6 1155L1255.1 1162.3L1258.1 1165.6L1260.1 1166.8L1262.1 1166.6L1266.1 1164.4L1275.1 1157.8L1276.6 1157.2L1280.1 1156.7L1283.1 1156.7L1287.6 1157.9L1293.1 1158.6L1298.6 1157.2L1304.6 1156.6L1306.6 1157.2L1310.1 1158.8L1313.1 1161.2L1314.6 1162L1316.6 1162L1319.6 1161.3L1321.1 1160.3L1324.1 1157.1L1331.1 1147.4L1334.1 1145.3L1335.6 1144.8L1337.1 1144.9L1345.6 1146.9L1348.6 1147.2L1350.1 1146.8L1351.6 1145.9L1355.6 1142.3L1358.1 1138.6L1362.1 1131.1L1382.1 1086.1L1393.6 1063L1398.6 1053.4L1400.6 1050.3L1403.1 1047.4L1405.6 1045.2L1407.6 1043.9L1410.6 1042.4L1414.1 1041.3L1423.1 1040.1L1427.6 1038.8L1429.1 1037.3L1433.1 1029.7L1433.6 1029.2L1434.6 1028.9L1437.1 1028.8L1438.6 1029.1L1440.1 1029.9L1441.6 1031.6L1444.6 1036.9L1447.1 1042.5L1452.1 1057.5L1459.1 1081.8L1463.1 1094.3L1466.1 1102.7L1469.1 1110L1472.1 1116.2L1474.6 1120.3L1478.1 1124.7L1481.1 1127.5L1483.6 1129L1484.6 1129.1L1486.6 1128.6L1491.6 1126.3L1493.1 1125.4L1503.1 1117L1507.6 1114.6L1510.6 1114.2L1515.1 1114.7L1517.6 1115.5L1520.6 1117.2L1525.6 1121.1L1530.1 1125.6L1533.1 1129.3L1536.6 1135.9L1543.6 1152.9L1546.1 1157.2L1547.6 1158.9L1548.6 1159.5L1551.6 1160.5L1553.1 1160.3L1554.6 1159.8L1557.1 1157.6L1561.6 1151.6L1565.1 1147.5L1565.6 1147.1L1566.6 1147L1568.1 1147L1569.1 1147.7L1572.1 1150.9L1575.6 1155.9L1576.6 1156.7L1579.6 1158.1L1593.6 1163.4L1599.6 1167.1L1601.6 1168.1L1604.6 1168.3L1606.6 1167.6L1608.6 1166.6L1612.1 1164.3L1615.6 1159.8L1617.1 1158.6L1618.1 1158.3L1619.1 1159.1L1620.1 1160.6L1623.1 1167.8L1629.1 1187.9L1631.6 1194.7L1635.1 1200.7L1637.6 1203.9L1639.1 1204.6L1640.6 1204.7L1650.1 1200.7L1670.6 1200.5"/>
<path d="M195.6 1215.1L205.6 1211.9L212.1 1209.4L214.1 1208.9L216.1 1208.7L217.6 1209.1L219.6 1210.1L232.1 1218.6L234.1 1219.4L235.6 1219.5L238.6 1218.7L248.6 1214L251.6 1212.9L258.1 1211.7L268.6 1210.8L275.6 1209.1L278.6 1208L285.6 1204.3L287.1 1203.8L290.1 1204.2L299.6 1208.3L301.1 1208.8L302.6 1208.8L305.1 1208.1L312.6 1204.5L314.6 1203.8L319.1 1204L326.6 1205.2L329.6 1205L343.1 1200.3L352.1 1198.3L377.6 1191L380.6 1190.9L391.1 1192.5L395.6 1192.9L401.6 1192.7L408.1 1191.9L411.6 1190.7L418.1 1187.5L426.6 1182.2L435.1 1177.5L438.6 1176L447.1 1173.3L451.1 1171L454.1 1168.5L458.6 1162.8L463.6 1155.8L467.6 1149.4L471.1 1144.8L473.1 1142.9L475.6 1141.7L477.6 1141.3L479.1 1141.4L486.6 1144.5L492.1 1145.4L496.6 1145.7L498.6 1145.3L503.1 1143.2L507.1 1141.7L509.1 1141.2L510.6 1141.1L512.1 1141.5L516.6 1143.8L523.6 1145.7L540.6 1147.4L551.6 1147.5L553.1 1146.7L554.6 1145.2L564.6 1132.4L569.1 1127.8L571.6 1126.1L575.1 1125.2L578.6 1124.6L590.6 1123.9L593.1 1123.2L599.6 1120.6L612.1 1118.6L620.1 1117L625.6 1115.2L633.6 1112L637.1 1110.3L640.1 1108.3L643.1 1105.7L646.1 1102.6L652.6 1094.2L658.1 1086.4L662.1 1078.7L669.6 1060.2L673.1 1049L683.6 1005.5L685.6 998.8L690.6 985.2L694.6 972.3L707.6 923.7L714.6 893.8L723.1 854.4L726.6 840.2L731.1 824.4L733.1 818.7L735.6 813.4L755.1 780.1L756.6 778.3L759.1 776.8L761.1 776.4L762.6 777.2L770.6 787.8L774.1 791.3L776.1 792.9L777.6 793.6L785.1 793.6L787.6 794.1L794.6 797.6L799.1 801.1L802.6 804.4L805.6 807.7L811.1 814.8L819.1 826L835.1 844L839.1 849.5L841.6 854.5L845.1 865.8L851.6 889.2L855.1 899L857.1 903.2L859.6 907.5L862.1 910.9L865.1 914.2L867.1 916L869.1 916.9L872.1 917.7L875.1 917.8L878.6 917.2L882.1 916.1L888.6 911.6L899.6 901.1L906.1 896L909.6 891.8L912.6 887L917.1 877.3L924.6 854.3L927.6 848L934.1 836.7L940.1 820.6L943.6 809.6L954.6 769.3L972.1 693.7L987.6 639.1L991.6 621.3L996.1 597.9L997.6 591.4L1000.1 583.5L1002.6 577.7L1006.1 572L1007.1 571.1L1008.1 570.8L1009.1 571.3L1010.1 572.2L1014.1 577.4L1026.1 595.7L1032.1 603L1034.6 606.8L1037.6 612.8L1040.6 620L1047.1 639.3L1050.1 650.9L1053.6 668.8L1056.1 684.2L1059.1 706.7L1060.6 715.5L1065.6 737.4L1073.6 774.7L1077.6 795.2L1080.6 814.7L1086.6 861.6L1094.1 916.3L1095.1 922.9L1096.6 929.6L1098.6 936.2L1101.6 944.2L1111.1 964.7L1114.1 972.5L1118.6 987.7L1124.1 1010.3L1127.1 1020.2L1130.1 1028.8L1134.1 1038L1137.6 1044.7L1140.1 1048.6L1146.6 1056.4L1149.1 1060.6L1151.1 1064.8L1154.1 1073L1161.1 1099.7L1164.1 1109.1L1166.1 1114.3L1167.6 1117.4L1170.1 1121.1L1172.1 1123.5L1174.1 1124.8L1175.6 1124.4L1177.1 1122.9L1183.6 1114.9L1185.1 1113.9L1186.6 1114.1L1188.6 1116L1191.6 1120.3L1197.1 1133.4L1198.6 1136.4L1201.6 1138.9L1203.1 1139.7L1204.6 1140L1208.1 1139.5L1216.1 1137L1223.1 1134.4L1229.6 1131.5L1233.1 1130.3L1236.1 1129.7L1238.1 1130L1241.6 1132.6L1243.6 1135.1L1252.6 1153L1254.1 1155.5L1257.1 1158.1L1259.6 1159.3L1260.6 1159.2L1262.1 1158.7L1265.6 1156.5L1270.6 1151.3L1274.1 1148.7L1276.1 1147.7L1279.1 1147.1L1282.6 1146.9L1287.6 1148.3L1293.1 1149L1295.1 1148.7L1302.6 1146.4L1304.6 1146.2L1307.1 1147L1314.6 1150.9L1316.6 1150.9L1319.6 1150.2L1321.1 1149.2L1323.6 1146.7L1330.1 1138.2L1331.6 1136.7L1333.1 1135.7L1335.6 1134.6L1339.1 1134L1347.1 1134.8L1349.1 1134.7L1351.6 1132.9L1355.1 1128.7L1358.1 1123.3L1374.6 1086.3L1392.1 1050.9L1397.6 1041.1L1401.1 1036.4L1404.1 1033.6L1406.1 1032.1L1407.6 1031.4L1410.6 1030.7L1413.1 1030.5L1415.1 1031L1420.1 1033.3L1424.1 1035.8L1426.1 1036.3L1428.1 1035.5L1432.6 1031.6L1434.1 1031.2L1436.6 1032.5L1439.6 1035.1L1441.1 1037.1L1443.1 1040.8L1445.6 1046.3L1448.1 1052.8L1458.1 1084.4L1463.6 1099L1466.1 1104.5L1469.1 1109.9L1471.6 1113.4L1474.1 1115.7L1479.6 1118.9L1481.6 1119.7L1484.1 1120.1L1486.1 1119.3L1492.1 1116L1498.1 1112.2L1501.6 1110.9L1504.1 1110.5L1508.6 1110.7L1516.1 1113.4L1520.1 1115.6L1524.6 1118.9L1530.1 1123.8L1533.1 1127.2L1534.6 1129.6L1536.6 1133.8L1543.1 1149.9L1545.6 1154.1L1547.6 1156.2L1549.1 1156.8L1551.6 1157.1L1554.6 1156.7L1556.6 1155.1L1564.6 1146.4L1565.6 1145.6L1566.6 1145.5L1568.6 1145.8L1570.6 1147.6L1572.1 1149.3L1575.1 1153.8L1576.1 1154.9L1578.1 1155.7L1586.6 1158L1593.1 1160.3L1595.1 1161.4L1599.6 1164.6L1602.1 1165.7L1604.1 1165.9L1606.1 1165.5L1611.1 1163.2L1612.6 1162.1L1616.1 1158.2L1617.1 1157.5L1618.1 1157.2L1619.1 1158L1620.6 1160.4L1623.6 1167.8L1629.1 1186.7L1631.6 1193.8L1635.1 1199.8L1637.6 1202.9L1639.1 1203.6L1640.6 1203.7L1649.1 1200.3L1650.6 1200L1670.6 1199.9"/>
<path d="M195.6 1213.7L205.6 1210.5L212.1 1207.9L214.1 1207.4L216.1 1207.3L217.6 1207.7L219.6 1208.6L232.1 1217.2L234.1 1218L235.6 1218.1L238.6 1217.3L251.1 1211.6L257.1 1210.4L267.6 1209.7L273.1 1208.7L278.1 1207.3L285.6 1203.4L287.1 1202.9L290.1 1203.4L299.6 1207.5L301.1 1207.9L302.6 1208L305.1 1207.2L312.6 1203.6L314.6 1203L319.1 1203.2L326.6 1204.3L329.6 1204.2L343.6 1199.1L377.6 1189.9L380.6 1189.9L386.1 1190.9L395.6 1191.9L401.6 1191.6L408.1 1190.6L411.6 1189.2L418.1 1185.6L426.6 1179.5L435.1 1174.1L438.6 1172.5L447.6 1169.9L450.1 1168.7L452.6 1167L455.1 1164.5L460.1 1157.9L463.6 1152.8L467.6 1146.3L471.1 1141.4L473.1 1139.3L475.6 1137.9L477.6 1137.4L479.1 1137.6L488.1 1141.4L494.6 1141.5L496.6 1140.7L500.1 1138.5L508.6 1132.3L511.6 1130.8L513.6 1130.3L520.1 1130.8L524.1 1131.5L533.6 1132.1L542.1 1133.8L548.1 1134.2L550.6 1134L552.6 1133.2L557.1 1130.3L566.6 1123L569.1 1121.6L574.6 1120.9L587.1 1120.4L589.1 1119.6L594.1 1116.5L596.1 1115.6L606.6 1114L611.1 1112.5L618.1 1108.7L627.1 1101.2L637.1 1095.3L641.1 1091.7L644.1 1087.7L653.1 1070.1L656.6 1064L658.1 1060.3L661.1 1046.3L666.6 1028.5L672.6 1004.2L682.1 973.9L690.6 940.1L700.1 898.4L711.1 842.7L716.6 821.8L722.1 793.7L724.6 783.5L730.6 764.7L736.6 748.3L752.6 712.7L755.6 705.3L757.1 702.5L760.6 699.2L762.1 698.6L763.6 698.6L765.6 699.6L769.1 702.4L772.6 706.8L775.1 708.1L777.6 708.8L779.6 708.5L784.6 705.5L791.6 703.8L796.1 703.9L802.6 705.6L806.6 708L811.6 712.4L817.6 720L821.1 725.2L822.6 726.8L825.1 728.3L834.1 732.3L836.6 733.8L838.6 736L841.1 740L842.6 742.9L844.6 748L847.1 756.1L850.1 770L853.6 783.6L856.6 792.5L859.6 799.2L864.1 806.1L866.1 808.3L867.6 809.3L871.1 811.2L874.1 812.2L876.6 812.4L880.1 811.7L884.6 810.1L887.1 808.8L891.6 805.8L897.6 800.9L906.1 797.5L909.6 795.7L912.6 793.2L915.6 789.5L917.1 786.8L918.6 783.3L920.1 779L922.6 768.9L924.6 763.9L926.1 761.1L928.1 758.8L930.6 756.9L933.1 755.6L937.1 754.2L938.6 753.1L946.6 737L950.1 731.1L953.6 726.3L957.6 722.5L960.1 719.6L963.6 714.3L966.1 708.3L972.6 689.1L977.6 676L980.1 671.6L987.6 662L990.6 657.1L994.6 648.6L1000.6 632.2L1002.6 629.5L1003.6 629L1005.1 629.9L1006.6 632.2L1016.6 659.2L1022.6 673.9L1024.6 677.5L1031.6 688L1040.1 703.2L1043.6 710.7L1046.6 719.6L1049.6 730.9L1055.6 759.5L1060.1 778.2L1065.6 797.5L1072.1 818L1076.1 833L1078.1 843L1081.1 860.7L1086.1 893.9L1088.1 905.3L1092.6 925.6L1096.6 938.8L1099.1 945.1L1105.1 955.6L1109.6 965.8L1112.1 972.8L1120.6 1000.7L1123.6 1009.6L1128.1 1021.1L1133.1 1031.6L1137.1 1037.3L1139.1 1038.9L1141.1 1038.6L1144.6 1036.4L1148.1 1034.6L1149.6 1034L1151.1 1033.8L1152.1 1034.1L1153.6 1035.2L1155.6 1037.5L1156.6 1039.2L1159.6 1048.7L1165.1 1073.5L1170.6 1095.4L1171.6 1098.4L1173.6 1101.6L1174.1 1102L1175.1 1102L1176.6 1100.9L1179.1 1098L1182.1 1093.2L1185.1 1090.4L1186.1 1089.9L1187.1 1089.7L1189.1 1090.4L1191.6 1092.3L1193.1 1094.7L1195.6 1101.1L1199.1 1111.6L1201.1 1116.1L1203.1 1118.9L1204.6 1120.3L1206.1 1120.8L1209.1 1121.3L1210.6 1121.4L1212.1 1121.1L1217.1 1118.6L1224.1 1115.9L1226.6 1114.3L1235.6 1107.4L1237.6 1107.2L1241.1 1107.7L1243.1 1109.8L1246.1 1114.6L1249.1 1120.9L1252.1 1128.4L1254.6 1133L1255.6 1134.3L1257.1 1135.3L1260.1 1136.6L1262.1 1136.2L1265.6 1133.7L1270.6 1128L1274.6 1124.5L1276.6 1123.4L1280.6 1122.2L1283.1 1122.1L1291.1 1123.3L1293.6 1123.4L1295.6 1122.8L1302.6 1119.6L1304.6 1119.3L1306.6 1120.1L1310.1 1122.4L1313.1 1125.2L1314.6 1126.1L1316.6 1126.1L1319.6 1125.4L1321.6 1124L1324.1 1121.2L1331.1 1109.1L1333.6 1105.9L1335.1 1104.5L1337.6 1103.8L1341.1 1103.4L1348.6 1104.1L1350.6 1103L1352.6 1100.7L1355.1 1097.2L1356.6 1094.5L1361.6 1082.4L1374.6 1053.2L1386.6 1029L1392.6 1017.8L1396.6 1012.3L1400.1 1008.7L1405.1 1006.6L1408.6 1006.3L1410.1 1006.8L1412.1 1008L1415.1 1010.3L1416.6 1011.9L1432.1 1033L1435.1 1037.7L1439.1 1045.8L1443.1 1055.4L1446.6 1064.8L1452.1 1081.2L1457.6 1096L1459.1 1099L1461.6 1102.9L1464.1 1105.9L1466.1 1107.6L1470.1 1110.3L1472.6 1111.4L1482.6 1111.6L1485.1 1110.6L1490.1 1106.9L1496.6 1103.7L1499.6 1103.3L1503.6 1104.6L1508.6 1107L1521.1 1115L1526.1 1118.7L1532.1 1124L1534.1 1126.6L1535.6 1129.4L1543.1 1148L1545.6 1151.6L1547.6 1153.5L1548.6 1153.8L1553.6 1153.8L1554.6 1153.5L1556.1 1152.5L1564.6 1144.8L1566.1 1144L1567.1 1143.9L1569.1 1144.9L1572.1 1147.6L1575.1 1152.4L1576.6 1153.8L1584.6 1154.8L1591.6 1156.9L1594.6 1158.3L1600.1 1162.3L1602.6 1163.4L1606.1 1163.1L1611.6 1161L1613.1 1160L1616.1 1157L1617.1 1156.4L1618.1 1156.2L1619.1 1156.9L1620.1 1158.4L1623.6 1166.3L1629.6 1187.1L1631.6 1192.9L1635.1 1198.9L1637.6 1201.9L1639.1 1202.7L1641.1 1202.6L1650.6 1199.3L1660.6 1199.5L1670.6 1199.3"/>
</g>
<g fill="none" stroke="#000" stroke-width="3.1" stroke-linecap="round">
<line x1="1037.0" y1="118.6" x2="1138.0" y2="118.6"/>
<line x1="1042.0" y1="191.5" x2="1136.3" y2="191.5"/>
<line x1="1037.0" y1="281.0" x2="1138.0" y2="281.0"/>
<line x1="1031.8" y1="397.3" x2="1137.2" y2="397.3"/>
<line x1="1022.4" y1="501.7" x2="1137.2" y2="501.7"/>
<line x1="1018.2" y1="582.0" x2="1137.2" y2="582.0"/>
<line x1="1014.7" y1="656.1" x2="1137.2" y2="656.1"/>
<line x1="681.0" y1="634.5" x2="756.0" y2="709.5"/>
<line x1="674.8" y1="709.5" x2="750.8" y2="784.5"/>
<line x1="667.6" y1="795.8" x2="746.7" y2="871.8"/>
<line x1="662.3" y1="914.0" x2="740.0" y2="989.5"/>
<line x1="631.6" y1="979.2" x2="752.3" y2="1099.8"/>
<line x1="596.5" y1="1047.0" x2="731.4" y2="1182.3"/>
<line x1="500.1" y1="1096.3" x2="617.5" y2="1210.0"/>
</g>
<g fill="none" stroke="#000" stroke-width="4.9" stroke-linecap="round" stroke-linejoin="round">
<rect x="195.6" y="50.2" width="1475.0" height="1198.5"/>
<path d="M195.6 1148.8h11.8M195.6 1049.0h22.4M195.6 949.1h11.8M195.6 849.2h22.4M195.6 749.3h11.8M195.6 649.5h22.4M195.6 549.6h11.8M195.6 449.7h22.4M195.6 349.8h11.8M195.6 250.0h22.4M195.6 150.1h11.8M318.5 1248.7v-11.8M442.7 1248.7v-22.4M564.4 1248.7v-11.8M687.3 1248.7v-22.4M810.2 1248.7v-11.8M933.1 1248.7v-22.4M1056.0 1248.7v-11.8M1178.9 1248.7v-22.4M1301.8 1248.7v-11.8M1423.6 1248.7v-22.4M1547.7 1248.7v-11.8"/>
</g>
<text class="tk" transform="translate(173.5 1261.4) scale(1 1.03)" text-anchor="end">0,0</text>
<text class="tk" transform="translate(173.5 1061.7) scale(1 1.03)" text-anchor="end">0,2</text>
<text class="tk" transform="translate(173.5 861.9) scale(1 1.03)" text-anchor="end">0,4</text>
<text class="tk" transform="translate(173.5 662.2) scale(1 1.03)" text-anchor="end">0,6</text>
<text class="tk" transform="translate(173.5 462.4) scale(1 1.03)" text-anchor="end">0,8</text>
<text class="tk" transform="translate(173.5 262.7) scale(1 1.03)" text-anchor="end">1,0</text>
<text class="tk" transform="translate(173.5 64.4) scale(1 1.03)" text-anchor="end">1,2</text>
<text class="tk" transform="translate(196.6 1308.0) scale(1 1.03)" text-anchor="middle">1850</text>
<text class="tk" transform="translate(442.4 1308.0) scale(1 1.03)" text-anchor="middle">1800</text>
<text class="tk" transform="translate(688.3 1308.0) scale(1 1.03)" text-anchor="middle">1750</text>
<text class="tk" transform="translate(934.1 1308.0) scale(1 1.03)" text-anchor="middle">1700</text>
<text class="tk" transform="translate(1179.9 1308.0) scale(1 1.03)" text-anchor="middle">1650</text>
<text class="tk" transform="translate(1425.8 1308.0) scale(1 1.03)" text-anchor="middle">1600</text>
<text class="tk" transform="translate(1671.6 1308.0) scale(1 1.03)" text-anchor="middle">1550</text>
<text class="lb" x="1147.0" y="136.6" text-anchor="start">0h</text>
<text class="lb" x="1148.0" y="206.8" text-anchor="start">2h</text>
<text class="lb" x="1149.0" y="297.2" text-anchor="start">6h</text>
<text class="lb" x="1144.4" y="413.2" text-anchor="start">12h</text>
<text class="lb" x="1145.4" y="514.8" text-anchor="start">20h</text>
<text class="lb" x="1145.4" y="603.6" text-anchor="start">30h</text>
<text class="lb" x="1145.8" y="673.8" text-anchor="start">52h</text>
<text class="lb" x="674.8" y="640.4" text-anchor="end">52h</text>
<text class="lb" x="669.4" y="725.6" text-anchor="end">30h</text>
<text class="lb" x="664.6" y="809.4" text-anchor="end">20h</text>
<text class="lb" x="655.8" y="929.2" text-anchor="end">12h</text>
<text class="lb" x="628.0" y="991.0" text-anchor="end">6h</text>
<text class="lb" x="590.0" y="1054.8" text-anchor="end">2h</text>
<text class="lb" x="492.6" y="1106.4" text-anchor="end">0h</text>
<text class="ax" x="696.0" y="1405.5" text-anchor="start">Wavenumber [cm<tspan dy="-25.5" font-size="30px">-1</tspan><tspan dy="25.5">]</tspan></text>
<text class="ax" transform="translate(70.5 686.0) rotate(-90)" text-anchor="middle">Absorbance</text>
</g>
</svg>
</body></html>
